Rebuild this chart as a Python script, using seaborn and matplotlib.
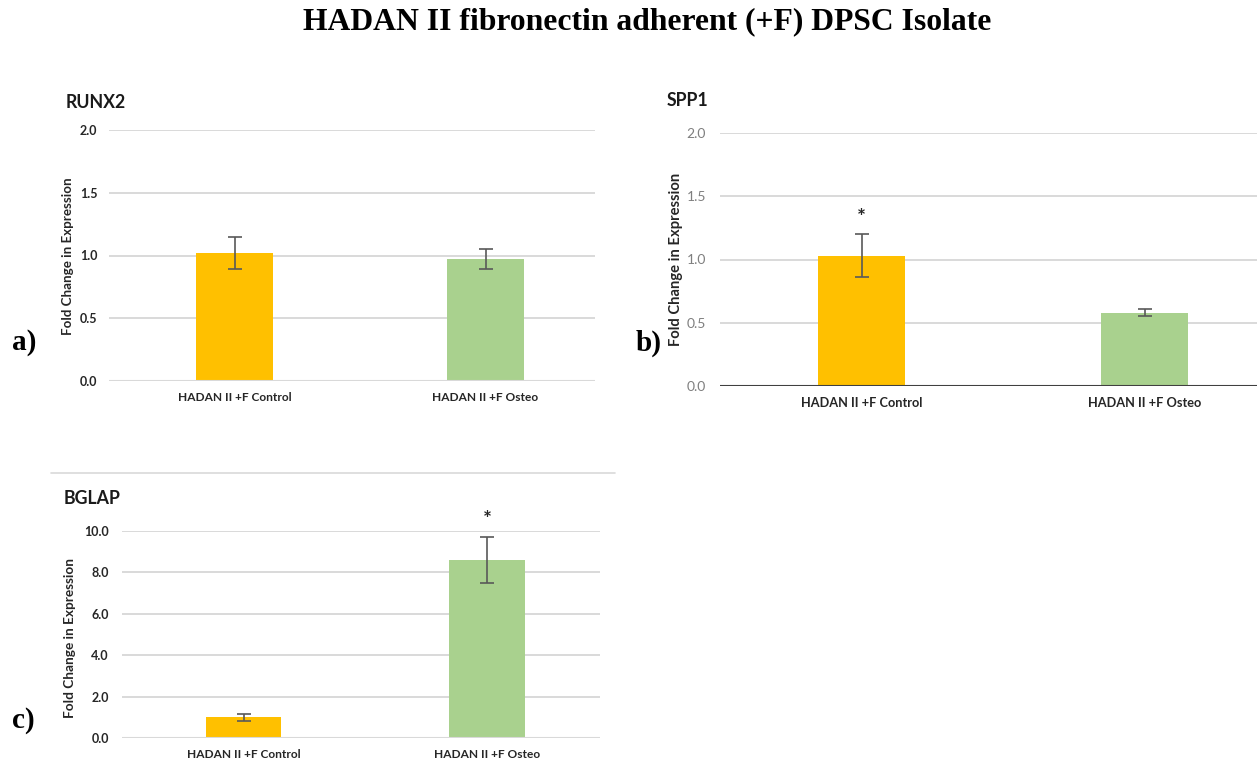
import matplotlib
matplotlib.use("Agg")
import matplotlib.pyplot as plt
import seaborn as sns
import pandas as pd
from matplotlib.lines import Line2D

W, H = 1257, 766

groups = ["HADAN II +F Control", "HADAN II +F Osteo"]
colors = ["#FFC000", "#A9D18E"]

runx2_vals = [1.02, 0.97]
runx2_err = [0.13, 0.08]
spp1_vals = [1.03, 0.58]
spp1_err = [0.17, 0.03]
bglap_vals = [1.00, 8.60]
bglap_err = [0.16, 1.10]

runx2_ticks = [0.0, 0.5, 1.0, 1.5, 2.0]
spp1_ticks = [0.0, 0.5, 1.0, 1.5, 2.0]
bglap_ticks = [0.0, 2.0, 4.0, 6.0, 8.0, 10.0]

sns.set_theme(style="white")
plt.rcParams["font.family"] = ["Lato", "DejaVu Sans"]

fig = plt.figure(figsize=(W / 100, H / 100), dpi=100)
fig.patch.set_facecolor("white")


def px_axes(left, top, right, bottom):
    return fig.add_axes([left / W, 1 - bottom / H, (right - left) / W, (bottom - top) / H])


def ftext(x, y, s, **kw):
    fig.text(x / W, 1 - y / H, s, **kw)


def panel(ax, vals, errs, ticks, ymax, xmax, tick_fs, tick_bold, tick_color,
          xl_fs, base_color, ypad, star_idx=None, star_y=None):
    df = pd.DataFrame({"group": groups, "value": vals})
    sns.barplot(data=df, x="group", y="value", hue="group", palette=colors,
                width=0.31, errorbar=None, legend=False, ax=ax,
                saturation=1, edgecolor="none")
    ax.errorbar([0, 1], vals, yerr=errs, fmt="none", ecolor="#595959",
                elinewidth=1.2, capsize=5, capthick=1.2, zorder=5)
    ax.set_ylim(0, ymax)
    ax.set_xlim(-0.5, xmax)
    ax.set_yticks(ticks)
    ax.set_yticklabels([f"{t:.1f}" for t in ticks], fontsize=tick_fs,
                       fontweight="bold" if tick_bold else "normal", color=tick_color)
    ax.tick_params(axis="y", length=0, pad=ypad)
    ax.tick_params(axis="x", length=0, pad=8)
    ax.set_xticks([0, 1])
    ax.set_xticklabels(groups, fontsize=xl_fs, fontweight="bold", color="#262626")
    ax.set_xlabel("")
    ax.set_ylabel("")
    ax.yaxis.grid(True, color="#D9D9D9", linewidth=1.4)
    ax.set_axisbelow(True)
    for s in ax.spines.values():
        s.set_visible(False)
    ax.axhline(0, color=base_color, linewidth=1.5, zorder=1)
    ax.set_facecolor("white")
    if star_idx is not None:
        t = ax.text(star_idx, star_y, "*", ha="center", va="center",
                    fontsize=15, fontweight="bold", color="#262626")
        t.set_clip_on(False)


# Panel a: RUNX2
ax_a = px_axes(109, 130, 595, 381)
panel(ax_a, runx2_vals, runx2_err, runx2_ticks, 2.0, 1.5 - 16 / 251,
      9, True, "#262626", 8.6, "#D9D9D9", 8.5)

# Panel b: SPP1
ax_b = px_axes(720, 133, 1257, 386)
panel(ax_b, spp1_vals, spp1_err, spp1_ticks, 2.0, 1.5 - 29 / 283,
      10, False, "#7F7F7F", 9.2, "#404040", 10, star_idx=0, star_y=1.33)

# Panel c: BGLAP
ax_c = px_axes(122, 531, 600, 738)
panel(ax_c, bglap_vals, bglap_err, bglap_ticks, 10.0, 1.5 - 9 / 244,
      9, True, "#262626", 8.6, "#D9D9D9", 9.4, star_idx=1, star_y=10.55)

# Y labels
ftext(68, 256, "Fold Change in Expression", rotation=90, ha="center", va="center",
      fontsize=9.6, fontweight="bold", color="#262626")
ftext(676, 259, "Fold Change in Expression", rotation=90, ha="center", va="center",
      fontsize=10.6, fontweight="bold", color="#262626")
ftext(70, 638, "Fold Change in Expression", rotation=90, ha="center", va="center",
      fontsize=9.8, fontweight="bold", color="#262626")

# Panel titles
ftext(66, 102, "RUNX2", ha="left", va="center", fontsize=12.8, fontweight="bold", color="#1a1a1a")
ftext(667, 100, "SPP1", ha="left", va="center", fontsize=12.8, fontweight="bold", color="#1a1a1a")
ftext(64, 499, "BGLAP", ha="left", va="center", fontsize=12.8, fontweight="bold", color="#1a1a1a")

# Panel letters
serif = ["Liberation Serif", "DejaVu Serif"]
ftext(12, 343, "a)", ha="left", va="center", fontsize=21, fontweight="bold", family=serif, color="black")
ftext(636, 343, "b)", ha="left", va="center", fontsize=21, fontweight="bold", family=serif, color="black")
ftext(12, 720, "c)", ha="left", va="center", fontsize=21, fontweight="bold", family=serif, color="black")

# Main title
ftext(647, 22, "HADAN II fibronectin adherent (+F) DPSC Isolate", ha="center", va="center",
      fontsize=22.8, fontweight="bold", family=serif, color="black")

# Chart border line above panel c
fig.add_artist(Line2D([51 / W, 615 / W], [1 - 473 / H, 1 - 473 / H], color="#D9D9D9", linewidth=1.2))

fig.savefig("out.png", dpi=100, facecolor="white")
